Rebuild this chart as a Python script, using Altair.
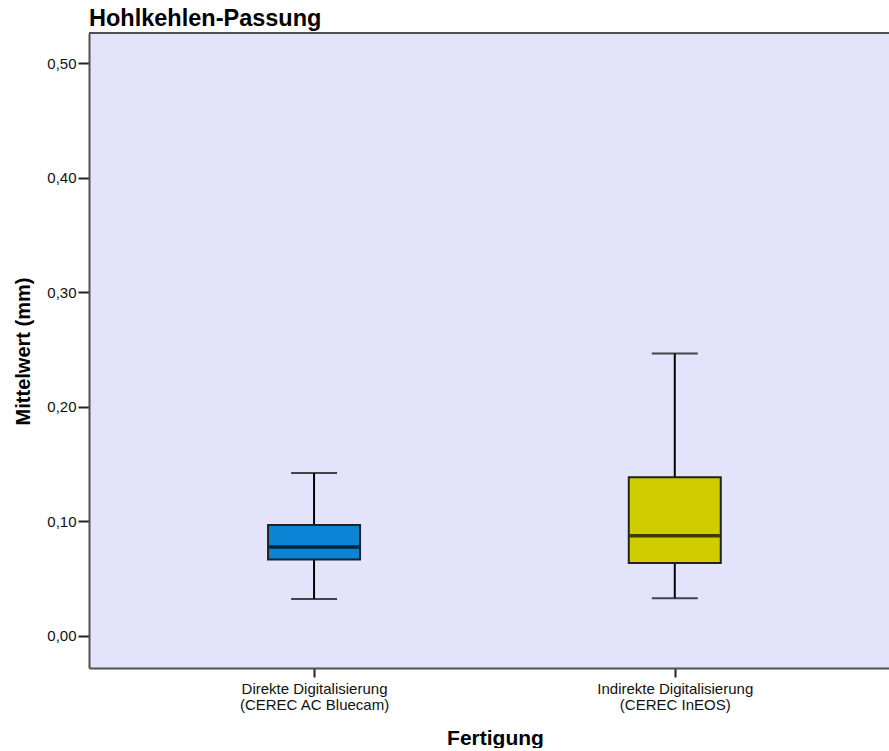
import altair as alt
import pandas as pd

# Box plot summary per group (values in mm)
group_keys = ["direkt", "indirekt"]
label_line1 = ["Direkte Digitalisierung", "Indirekte Digitalisierung"]
label_line2 = ["(CEREC AC Bluecam)", "(CEREC InEOS)"]
lower_whisker = [0.032, 0.0326]
q1 = [0.0664, 0.0634]
median = [0.0774, 0.0873]
q3 = [0.0966, 0.1383]
upper_whisker = [0.142, 0.2463]
box_colors = ["#0A84D4", "#CFCC00"]

df = pd.DataFrame({
    "pos": list(range(len(group_keys))),
    "group": group_keys,
    "lo": lower_whisker,
    "q1": q1,
    "med": median,
    "q3": q3,
    "hi": upper_whisker,
})

FONT = "Liberation Sans"
FRAME = "#505050"

label_expr = (
    f"datum.value == 0 ? ['{label_line1[0]}', '{label_line2[0]}'] : "
    f"['{label_line1[1]}', '{label_line2[1]}']"
)

x_enc = alt.X(
    "pos:Q",
    scale=alt.Scale(domain=[-0.61, 1.58], nice=False, zero=False),
    axis=alt.Axis(
        values=[0, 1],
        labelExpr=label_expr,
        title="Fertigung",
        titleFont=FONT,
        titleFontSize=21,
        titleFontWeight="bold",
        titleColor="#000",
        titleX=406,
        titleY=70,
        titleBaseline="middle",
        labelFont=FONT,
        labelFontSize=15,
        labelColor="#111",
        labelLineHeight=16,
        labelPadding=4,
        labelBaseline="top",
        tickSize=9,
        tickWidth=2,
        tickColor="#222",
        domainColor=FRAME,
        domainWidth=2,
        grid=False,
    ),
)

y_scale = alt.Scale(domain=[-0.0283, 0.5263], nice=False, zero=False)
y_axis = alt.Axis(
    values=[0, 0.1, 0.2, 0.3, 0.4, 0.5],
    labelExpr="replace(format(datum.value, '.2f'), '.', ',')",
    title="Mittelwert (mm)",
    titleFont=FONT,
    titleFontSize=20,
    titleFontWeight="bold",
    titleColor="#000",
    titleX=-66,
    titleY=318,
    titleBaseline="middle",
    labelFont=FONT,
    labelFontSize=15,
    labelColor="#111",
    labelPadding=2,
    tickSize=11,
    tickWidth=2,
    tickColor="#222",
    domainColor=FRAME,
    domainWidth=2,
    grid=False,
)

base = alt.Chart(df)

whiskers = base.mark_rule(color="#000", strokeWidth=2).encode(
    x=x_enc,
    y=alt.Y("lo:Q", scale=y_scale, axis=y_axis),
    y2="hi:Q",
)

cap_low = base.mark_tick(orient="horizontal", size=46, thickness=2, color="#000").encode(
    x="pos:Q", y="lo:Q"
)
cap_high = base.mark_tick(orient="horizontal", size=46, thickness=2, color="#000").encode(
    x="pos:Q", y="hi:Q"
)

boxes = base.mark_bar(size=92, orient="vertical", stroke="#222", strokeWidth=2).encode(
    x="pos:Q",
    y="q1:Q",
    y2="q3:Q",
    color=alt.Color(
        "group:N",
        scale=alt.Scale(domain=group_keys, range=box_colors),
        legend=None,
    ),
)

medians = base.mark_tick(orient="horizontal", size=90, thickness=3.5, color="#000").encode(
    x="pos:Q", y="med:Q"
)

# top edge of the plot frame
top_edge = base.mark_rule(color=FRAME, strokeWidth=2).encode(
    x=alt.value(0), x2=alt.value(800), y=alt.value(0)
)

chart = (
    alt.layer(whiskers, cap_low, cap_high, boxes, medians, top_edge)
    .properties(
        width=800,
        height=635,
        title=alt.TitleParams(
            "Hohlkehlen-Passung",
            anchor="start",
            frame="group",
            font=FONT,
            fontSize=23.5,
            fontWeight="bold",
            color="#000",
            offset=2,
        ),
        autosize=alt.AutoSizeParams(type="none"),
        padding={"left": 89, "top": 33, "right": 0, "bottom": 80},
        background="#ffffff",
    )
    .configure_view(fill="#E3E3FB", stroke=None)
)

chart.save("out.html", embed_options={"renderer": "svg", "actions": False})
